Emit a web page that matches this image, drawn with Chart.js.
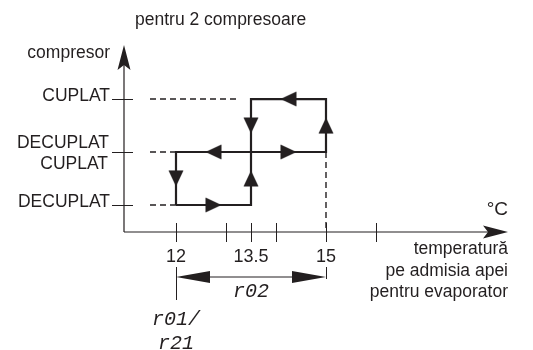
<!DOCTYPE html>
<html>
<head>
<meta charset="utf-8">
<script src="https://cdn.jsdelivr.net/npm/chart.js@4/dist/chart.umd.min.js"></script>
<style>
  html, body { margin: 0; padding: 0; background: #fff; }
  #wrap { width: 533px; height: 350px; position: relative; }
</style>
</head>
<body>
<div id="wrap"><canvas id="histChart"></canvas></div>
<script>
// temperatura (axa x) - pozitii de tick si etichete
var tickTemps = [12, 13, 13.5, 14, 15, 16];
var labelTemps = [12, 13.5, 15];
var labelTexts = ['12', '13.5', '15'];

// stari compresor (axa y)
var levels = [0, 1, 2];
var levelLabels = [['DECUPLAT'], ['DECUPLAT', 'CUPLAT'], ['CUPLAT']];

// bucla histerezis compresor 1 si 2
var comp1X = [12, 13.5, 13.5, 12, 12];
var comp1Y = [0, 0, 1, 1, 0];
var comp2X = [13.5, 15, 15, 13.5, 13.5];
var comp2Y = [1, 1, 2, 2, 1];

// sagetile de pe bucle (unghi in grade, 0 = sus)
var arrowX = [12.75, 13.5, 14.25, 15, 14.25, 13.5, 12.75, 12];
var arrowY = [0, 0.5, 1, 1.5, 2, 1.5, 1, 0.5];
var arrowDir = [90, 0, 90, 0, 270, 180, 270, 180];

// limitele axelor
var xMin = 10.96, xMax = 18.64;
var yMin = -0.51, yMax = 3.02;

var ink = '#231f20';
var sans = '"Liberation Sans", Arial, sans-serif';

function pts(xs, ys) {
    return xs.map(function (x, i) { return { x: x, y: ys[i] }; });
}

// imagine sageata (varful in sus)
var arrowImg = document.createElement('canvas');
arrowImg.width = 18; arrowImg.height = 18;
(function () {
    var c = arrowImg.getContext('2d');
    c.fillStyle = ink;
    c.beginPath();
    c.moveTo(9, 1);
    c.lineTo(16.5, 17);
    c.lineTo(1.5, 17);
    c.closePath();
    c.fill();
})();

function dashed(xs, ys) {
    return {
        data: pts(xs, ys), showLine: true, borderColor: ink, borderWidth: 1.4,
        borderDash: [6, 4], pointRadius: 0, clip: false
    };
}

var axesPlugin = {
    id: 'axesPlugin',
    afterDraw: function (chart) {
        var ctx = chart.ctx;
        var xs = chart.scales.x, ys = chart.scales.y;
        var x0 = xs.getPixelForValue(xMin), x1 = xs.getPixelForValue(xMax);
        var y0 = ys.getPixelForValue(yMin), y1 = ys.getPixelForValue(yMax);
        ctx.save();
        ctx.strokeStyle = ink;
        ctx.fillStyle = ink;
        ctx.lineWidth = 1.2;

        // axe
        ctx.beginPath();
        ctx.moveTo(x0, y0); ctx.lineTo(x1 - 10, y0);
        ctx.moveTo(x0, y0); ctx.lineTo(x0, y1 + 10);
        ctx.stroke();
        // varf axa x
        ctx.beginPath();
        ctx.moveTo(x1, y0); ctx.lineTo(x1 - 25, y0 - 6.5); ctx.lineTo(x1 - 20, y0); ctx.lineTo(x1 - 25, y0 + 6.5);
        ctx.closePath(); ctx.fill();
        // varf axa y
        ctx.beginPath();
        ctx.moveTo(x0, y1); ctx.lineTo(x0 - 6.5, y1 + 25); ctx.lineTo(x0, y1 + 20); ctx.lineTo(x0 + 6.5, y1 + 25);
        ctx.closePath(); ctx.fill();

        // tick-uri x
        ctx.lineWidth = 1;
        tickTemps.forEach(function (t) {
            var px = Math.round(xs.getPixelForValue(t)) + 0.5;
            ctx.beginPath(); ctx.moveTo(px, y0 - 9); ctx.lineTo(px, y0 + 10); ctx.stroke();
        });
        // tick-uri y + etichete
        ctx.font = '17.5px ' + sans;
        ctx.textAlign = 'right';
        ctx.textBaseline = 'alphabetic';
        levels.forEach(function (lv, i) {
            var py = Math.round(ys.getPixelForValue(lv)) + 0.5;
            ctx.beginPath(); ctx.moveTo(x0 - 12, py); ctx.lineTo(x0 + 9, py); ctx.stroke();
            var lines = levelLabels[i];
            if (lines.length === 2) {
                ctx.fillText(lines[0], x0 - 15, py - 5);
                ctx.fillText(lines[1], x0 - 16, py + 16);
            } else {
                ctx.fillText(lines[0], x0 - 14, py + 1);
            }
        });

        // etichete x
        ctx.font = '18px "Liberation Sans Narrow", ' + sans;
        ctx.textAlign = 'center';
        labelTemps.forEach(function (t, i) {
            ctx.fillText(labelTexts[i], xs.getPixelForValue(t), y0 + 30);
        });
        ctx.font = '19px "Liberation Sans Narrow", ' + sans;
        ctx.textAlign = 'right';
        ctx.fillText('°C', x1, y0 - 17);

        // titlu axa x
        ctx.font = '17.5px ' + sans;
        ctx.fillText('temperatură', x1, y0 + 22);
        ctx.fillText('pe admisia apei', x1, y0 + 44);
        ctx.fillText('pentru evaporator', x1, y0 + 65);
        // titlu axa y si titlu
        ctx.fillText('compresor', x0 - 14, 58);
        ctx.textAlign = 'left';
        ctx.fillText('pentru 2 compresoare', 135, 25);

        // cota r02 (12 -> 15)
        var a = xs.getPixelForValue(labelTemps[0]), b = xs.getPixelForValue(labelTemps[2]);
        var ya = y0 + 45;
        ctx.beginPath();
        ctx.moveTo(Math.round(a) + 0.5, y0 + 35); ctx.lineTo(Math.round(a) + 0.5, y0 + 68);
        ctx.moveTo(Math.round(b) + 0.5, y0 + 35); ctx.lineTo(Math.round(b) + 0.5, y0 + 47);
        ctx.moveTo(a + 20, ya); ctx.lineTo(b - 20, ya);
        ctx.stroke();
        ctx.beginPath();
        ctx.moveTo(a, ya); ctx.lineTo(a + 34, ya - 6); ctx.lineTo(a + 34, ya + 6); ctx.closePath(); ctx.fill();
        ctx.beginPath();
        ctx.moveTo(b, ya); ctx.lineTo(b - 34, ya - 6); ctx.lineTo(b - 34, ya + 6); ctx.closePath(); ctx.fill();

        ctx.font = 'italic 20px "Liberation Mono", monospace';
        ctx.textAlign = 'center';
        ctx.fillText('r02', (a + b) / 2, y0 + 65);
        ctx.fillText('r01/', a, y0 + 93);
        ctx.fillText('r21', a, y0 + 117);
        ctx.restore();
    }
};

var ctx = document.getElementById('histChart').getContext('2d');
var histChart = new Chart(ctx, {
    type: 'scatter',
    data: {
        datasets: [
            { data: pts(comp1X, comp1Y), showLine: true, borderColor: ink, borderWidth: 2.2, pointRadius: 0, clip: false },
            { data: pts(comp2X, comp2Y), showLine: true, borderColor: ink, borderWidth: 2.2, pointRadius: 0, clip: false },
            dashed([11.48, 13.28], [2, 2]),
            dashed([11.48, 12], [1, 1]),
            dashed([11.48, 12], [0, 0]),
            dashed([15, 15], [1, yMin]),
            {
                data: pts(arrowX, arrowY), showLine: false, pointStyle: arrowImg,
                rotation: arrowDir, pointRadius: 9, clip: false
            }
        ]
    },
    options: {
        responsive: true,
        maintainAspectRatio: false,
        animation: false,
        events: [],
        layout: { padding: { left: 124, right: 25, top: 45, bottom: 118 } },
        plugins: { legend: { display: false }, tooltip: { enabled: false } },
        scales: {
            x: { type: 'linear', min: xMin, max: xMax, display: false },
            y: { type: 'linear', min: yMin, max: yMax, display: false }
        }
    },
    plugins: [axesPlugin]
});
</script>
</body>
</html>
